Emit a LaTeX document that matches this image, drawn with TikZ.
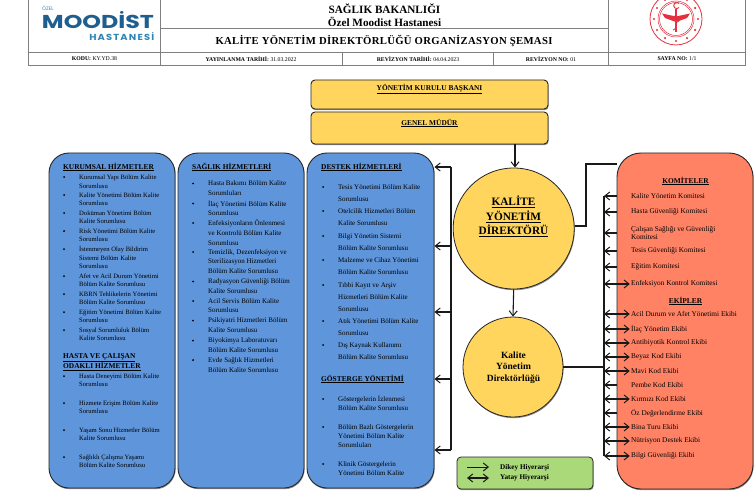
\documentclass[tikz,border=0pt]{standalone}
\usepackage{fontspec}
\setmainfont{Liberation Serif}
\newfontfamily\logofont{Poppins}
\usetikzlibrary{arrows.meta,shadows}
\definecolor{bluefill}{HTML}{5F95DA}
\definecolor{orangefill}{HTML}{FF8265}
\definecolor{yellowfill}{HTML}{FFD55E}
\definecolor{greenfill}{HTML}{A9D978}
\definecolor{gridcol}{HTML}{7F7F7F}
\definecolor{logoblue}{HTML}{1F5F8F}
\definecolor{logoteal}{HTML}{2E86B5}
\definecolor{sealred}{HTML}{E5303F}
\newcounter{itm}
\newcommand{\FS}[2]{\fontsize{#1}{#2}\selectfont}
\newcommand{\bsz}{6.6}
% bullet item: bullet x, text x, y of first line, leading, text
\newcommand{\bitem}[5]{\stepcounter{itm}%
  \fill (#1,#3) circle (1pt);
  \node[itemtext,anchor=north west,font=\FS{\bsz}{#4}] (it\arabic{itm}) at (#2,#3-3.2) {\rule{0pt}{5.2pt}#5};}
\newcommand{\rowlabel}[4]{\node[rowtext] (#1) at (#2,59) {\textbf{#3} #4};}
\tikzset{
  boxshadow/.style={drop shadow={shadow xshift=0.6pt,shadow yshift=-1.2pt,opacity=.45,fill=black}},
  bluebox/.style={draw=black!85,line width=0.9pt,fill=bluefill,rounded corners=20pt,minimum width=126pt,minimum height=335pt,inner sep=0pt,boxshadow},
  orangebox/.style={draw=black!85,line width=0.9pt,fill=orangefill,rounded corners=24pt,minimum width=136pt,minimum height=336pt,inner sep=0pt,boxshadow},
  yellowbox/.style={draw=black!85,line width=0.9pt,fill=yellowfill,rounded corners=4pt,minimum width=237pt,inner sep=0pt,boxshadow},
  greenbox/.style={draw=black!85,line width=0.8pt,fill=greenfill,rounded corners=4pt,minimum width=136pt,minimum height=32pt,inner sep=0pt,boxshadow},
  circ/.style={circle,draw=black!85,line width=0.8pt,fill=yellowfill,inner sep=0pt,boxshadow},
  itemtext/.style={inner sep=0pt,align=left},
  headtext/.style={inner sep=0pt,anchor=west,align=left,font=\FS{7.4}{10}\bfseries},
  rowtext/.style={inner sep=0pt,font=\FS{5.75}{7}},
  rightitem/.style={inner sep=0pt,anchor=west,align=left,font=\FS{7.3}{8.6}},
  conn/.style={line width=1.1pt,draw=black!90},
  arr/.style={conn,-{Straight Barb[length=5pt,width=8pt,line width=1pt]}},
  darr/.style={conn,{Straight Barb[length=5pt,width=8pt,line width=1pt]}-{Straight Barb[length=5pt,width=8pt,line width=1pt]}},
  grid/.style={draw=gridcol,line width=0.8pt},
}
\begin{document}
\begin{tikzpicture}[x=1pt,y=-1pt]
\path[use as bounding box,clip] (0,0) rectangle (755,500);
\fill[white] (0,0) rectangle (755,500);
% header grid
\draw[grid] (28.5,0) -- (28.5,65) -- (745,65) -- (745,0);
\draw[grid] (28.5,52.3) -- (745,52.3);
\draw[grid] (160.5,0) -- (160.5,65);
\draw[grid] (608.5,0) -- (608.5,65);
\draw[grid] (160.5,28) -- (608.5,28);
\draw[grid] (342,52.3) -- (342,65);
\draw[grid] (493.5,52.3) -- (493.5,65);
% logo
\node[inner sep=0pt,anchor=west,text=logoteal,font=\logofont\FS{5}{6}] (lgo) at (42,8) {ÖZEL};
\node[inner sep=0pt,text=logoblue,font=\logofont\bfseries\FS{24}{24}] (lgm) at (98,20) {\resizebox{112pt}{17pt}{MOODİST}};
\node[inner sep=0pt,anchor=east,text=logoteal,font=\logofont\bfseries\FS{9}{10}] (lgh) at (154.5,36.5) {\resizebox{65pt}{8pt}{\addfontfeature{LetterSpace=12}HASTANESİ}};
% seal
\begin{scope}[sealred]
\draw[line width=0.8pt] (676,19) circle (26);
\draw[line width=0.5pt] (676,19) circle (18);
\draw[line width=0.5pt] (676,19) circle (16.5);
\foreach \a in {0,30,...,330}{\fill (676,19) ++(\a:22) circle (1.2);}
\draw[line width=1.2pt] (676,9) -- (676,32);
\draw[line width=0.8pt] (673,30) .. controls (680,27) and (672,24) .. (679,21) .. controls (682,19) and (672,16) .. (676,14);
\fill (662,13.5) -- (676,16.5) -- (690,13.5) -- (687,18) -- (676,22) -- (665,18) -- cycle;
\draw[line width=0.9pt] (679,7.5) arc (40:320:3);
\end{scope}
% titles
\node[inner sep=0pt,font=\FS{11.2}{12}\bfseries] (t1) at (384.5,9) {SAĞLIK BAKANLIĞI};
\node[inner sep=0pt,font=\FS{11.2}{12}\bfseries] (t2) at (384.5,22) {Özel Moodist Hastanesi};
\node[inner sep=0pt,font=\FS{10.7}{13}\bfseries] (t3) at (384,40.5) {\addfontfeature{LetterSpace=3}KALİTE YÖNETİM DİREKTÖRLÜĞÜ ORGANİZASYON ŞEMASI};
\rowlabel{r1}{94.5}{KODU:}{KY.YD.38}
\rowlabel{r2}{251}{YAYINLANMA TARİHİ:}{31.03.2022}
\rowlabel{r3}{418}{REVİZYON TARİHİ:}{04.04.2023}
\rowlabel{r4}{551}{REVİZYON NO:}{01}
\rowlabel{r5}{677}{SAYFA NO:}{1/1}
% yellow boxes
\node[yellowbox,minimum height=29pt] (ykb) at (429.5,94.5) {};
\node[yellowbox,minimum height=32pt] (gm) at (429.5,128) {};
\node[inner sep=0pt,font=\FS{7.4}{8}\bfseries] (ykbt) at (429.5,89.3) {\underline{YÖNETİM KURULU BAŞKANI}};
\node[inner sep=0pt,font=\FS{7.4}{8}\bfseries] (gmt) at (429.5,123) {\underline{GENEL MÜDÜR}};
% blue boxes
\node[bluebox] (b1) at (112,320.5) {};
\node[bluebox] (b2) at (241,320.5) {};
\node[bluebox,minimum width=127pt] (b3) at (370.5,320.5) {};
% orange box
\node[orangebox] (ob) at (685,321) {};
% connectors from circles
\coordinate (tl1) at (451,167);
\coordinate (tl2) at (451,450);
\coordinate (tr1) at (604,196);
\coordinate (tr2) at (604,456);
\coordinate (r1a) at (586,226);
\coordinate (r1b) at (586,164);
\draw[conn] (tl1) -- (tl2);
\draw[conn] (tr1) -- (tr2);
\foreach \y in {167,246,312,379,450}{
  \coordinate (ay) at (451,\y);
  \draw[arr] (ay) -- (b3.east |- ay);
}
% circles
\node[circ,minimum size=121pt] (c1) at (513.7,228.5) {};
\node[circ,minimum size=100pt] (c2) at (513,367) {};
\node[inner sep=0pt,align=center,font=\FS{11.3}{14.5}\bfseries] (c1t) at (513.5,216.5) {\underline{KALİTE}\\\underline{YÖNETİM}\\\underline{DİREKTÖRÜ}};
\node[inner sep=0pt,align=center,font=\FS{9.5}{11.5}\bfseries] (c2t) at (513.5,367.5) {Kalite\\Yönetim\\Direktörlüğü};
\draw[arr] (gm.south -| 515,0) -- (515,167.5);
\draw[arr] (c1.south) -- (c2.north);
\draw[conn] (c1.east |- r1a) -- (r1a) -- (r1b) -- (ob.west |- r1b);
\draw[conn] (c2.east) -- (c2.east -| tr1);
% left box 1
\node[headtext] (h1) at (63,167) {\underline{KURUMSAL HİZMETLER}};
\bitem{64}{79}{177}{8.9}{Kurumsal Yapı Bölüm Kalite\\Sorumlusu}
\bitem{64}{79}{195}{8.7}{Kalite Yönetimi Bölüm Kalite\\Sorumlusu}
\bitem{64}{79}{213}{8.7}{Doküman Yönetimi Bölüm\\Kalite Sorumlusu}
\bitem{64}{79}{231}{8.7}{Risk Yönetimi Bölüm Kalite\\Sorumlusu}
\bitem{64}{79}{249}{8.7}{İstenmeyen Olay Bildirim\\Sistemi Bölüm Kalite\\Sorumlusu}
\bitem{64}{79}{276}{8.7}{Afet ve Acil Durum Yönetimi\\Bölüm Kalite Sorumlusu}
\bitem{64}{79}{294}{8.7}{KBRN Tehlikelerin Yönetimi\\Bölüm Kalite Sorumlusu}
\bitem{64}{79}{312}{8.7}{Eğitim Yönetimi Bölüm Kalite\\Sorumlusu}
\bitem{64}{79}{330}{8.7}{Sosyal Sorumluluk Bölüm\\Kalite Sorumlusu}
\node[headtext] (h2) at (63,362) {\underline{HASTA VE ÇALIŞAN}\\\underline{ODAKLI HİZMETLER}};
\bitem{64}{79}{376}{8.7}{Hasta Deneyimi Bölüm Kalite\\Sorumlusu}
\bitem{64}{79}{403}{8.7}{Hizmete Erişim Bölüm Kalite\\Sorumlusu}
\bitem{64}{79}{430}{8.7}{Yaşam Sonu Hizmetler Bölüm\\Kalite Sorumlusu}
\bitem{64}{79}{457}{8.7}{Sağlıklı Çalışma Yaşamı\\Bölüm Kalite Sorumlusu}
% box 2
\renewcommand{\bsz}{7}
\node[headtext] (h3) at (192,167) {\underline{SAĞLIK HİZMETLERİ}};
\bitem{193}{208}{183.5}{9.7}{Hasta Bakımı Bölüm Kalite\\Sorumluları}
\bitem{193}{208}{203.5}{9.7}{İlaç Yönetimi Bölüm Kalite\\Sorumlusu}
\bitem{193}{208}{223}{9.7}{Enfeksiyonların Önlenmesi\\ve Kontrolü Bölüm Kalite\\Sorumlusu}
\bitem{193}{208}{252}{9.7}{Temizlik, Dezenfeksiyon ve\\Sterilizasyon Hizmetleri\\Bölüm Kalite Sorumlusu}
\bitem{193}{208}{281.5}{9.7}{Radyasyon Güvenliği Bölüm\\Kalite Sorumlusu}
\bitem{193}{208}{301}{9.7}{Acil Servis Bölüm Kalite\\Sorumlusu}
\bitem{193}{208}{320.7}{9.8}{Psikiyatri Hizmetleri Bölüm\\Kalite Sorumlusu}
\bitem{193}{208}{340.7}{9.7}{Biyokimya Laboratuvarı\\Bölüm Kalite Sorumlusu}
\bitem{193}{208}{360}{9.8}{Evde Sağlık Hizmetleri\\Bölüm Kalite Sorumlusu}
% box 3
\node[headtext] (h4) at (321,167) {\underline{DESTEK HİZMETLERİ}};
\bitem{323}{338}{187}{12.1}{Tesis Yönetimi Bölüm Kalite\\Sorumlusu}
\bitem{323}{338}{211}{12.1}{Otelcilik Hizmetleri Bölüm\\Kalite Sorumlusu}
\bitem{323}{338}{236}{12.1}{Bilgi Yönetim Sistemi\\Bölüm Kalite Sorumlusu}
\bitem{323}{338}{260}{12.1}{Malzeme ve Cihaz Yönetimi\\Bölüm Kalite Sorumlusu}
\bitem{323}{338}{285}{12.1}{Tıbbi Kayıt ve Arşiv\\Hizmetleri Bölüm Kalite\\Sorumlusu}
\bitem{323}{338}{321}{12.1}{Atık Yönetimi Bölüm Kalite\\Sorumlusu}
\bitem{323}{338}{345}{12.1}{Dış Kaynak Kullanımı\\Bölüm Kalite Sorumlusu}
\node[headtext] (h5) at (321,379) {\underline{GÖSTERGE YÖNETİMİ}};
\bitem{323}{338}{399}{9}{Göstergelerin İzlenmesi\\Bölüm Kalite Sorumlusu}
\bitem{323}{338}{427}{9}{Bölüm Bazlı Göstergelerin\\Yönetimi Bölüm Kalite\\Sorumluları}
\bitem{323}{338}{464}{9}{Klinik Göstergelerin\\Yönetimi Bölüm Kalite}
% right items
\node[inner sep=0pt,font=\FS{7.4}{8}\bfseries] (h6) at (685.5,181) {\underline{KOMİTELER}};
\node[inner sep=0pt,font=\FS{7.4}{8}\bfseries] (h7) at (685.5,301) {\underline{EKİPLER}};
\foreach \n/\y/\t in {a/196/Kalite Yönetim Komitesi,b/212/Hasta Güvenliği Komitesi,d/251/Tesis Güvenliği Komitesi,e/267/Eğitim Komitesi,l/385/Pembe Kod Ekibi,n/413/Öz Değerlendirme Ekibi}{
  \node[rightitem] (ri\n) at (631,\y) {\t};
  \draw[arr] (ob.west |- ri\n) -- (ri\n -| tr1);
}
\node[rightitem] (ric) at (631,233) {Çalışan Sağlığı ve Güvenliği\\Komitesi};
\draw[arr] (ob.west |- ric) -- (ric -| tr1);
\foreach \n/\y/\t in {f/284/Enfeksiyon Kontrol Komitesi,g/314/Acil Durum ve Afet Yönetimi Ekibi,h/329/İlaç Yönetim Ekibi,i/343/Antibiyotik Kontrol Ekibi,j/357/Beyaz Kod Ekibi,k/371/Mavi Kod Ekibi,m/399/Kırmızı Kod Ekibi,o/427/Bina Turu Ekibi,p/441/Nütrisyon Destek Ekibi,q/456/Bilgi Güvenliği Ekibi}{
  \node[rightitem] (ri\n) at (631,\y) {\t};
  \draw[darr] ([xshift=-1.2pt]ri\n.west) -- (ri\n -| tr1);
}
% legend
\node[greenbox] (lg) at (525,473) {};
\coordinate (la1) at (467,467);
\coordinate (la2) at (489,467);
\coordinate (lb1) at (467,478);
\coordinate (lb2) at (489,478);
\draw[arr,line width=0.9pt] (la1) -- (la2);
\draw[darr] (lb1) -- (lb2);
\node[inner sep=0pt,anchor=west,font=\FS{7.2}{8}\bfseries] (lt1) at (500,467.5) {Dikey Hiyerarşi};
\node[inner sep=0pt,anchor=west,font=\FS{7.2}{8}\bfseries] (lt2) at (500,478) {Yatay Hiyerarşi};
\end{tikzpicture}
\end{document}
